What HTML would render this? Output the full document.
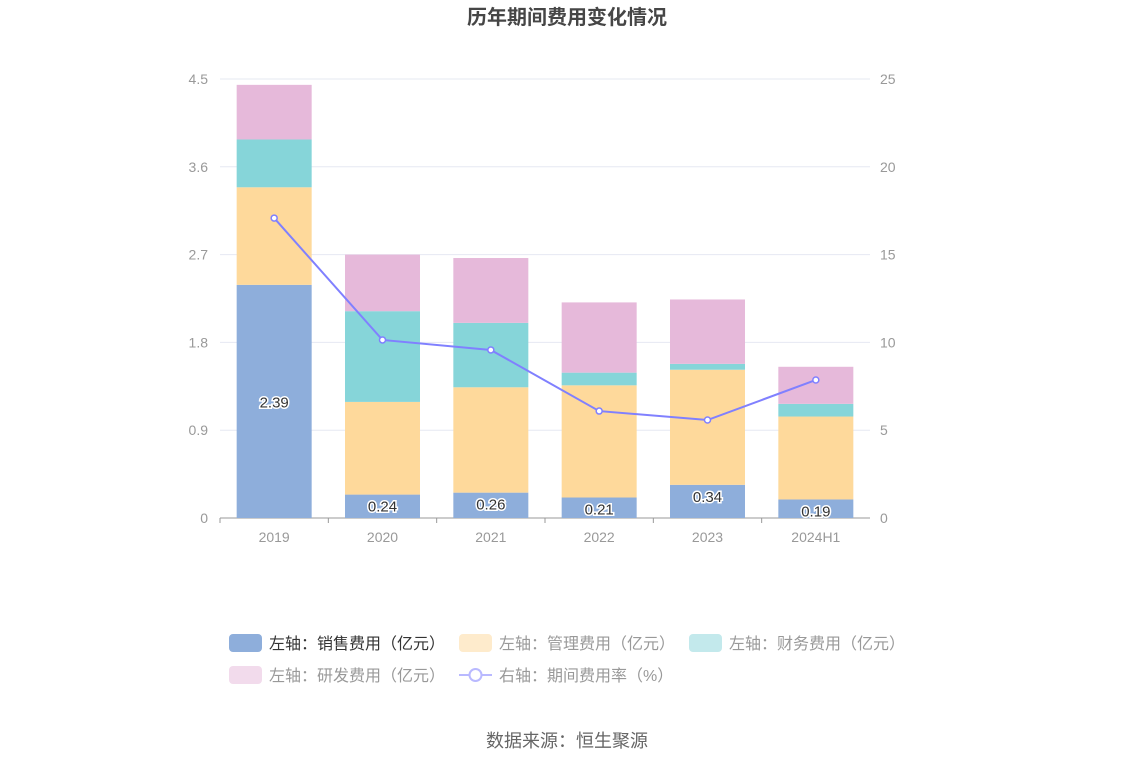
<!DOCTYPE html>
<html><head><meta charset="utf-8"><style>
body{margin:0;width:1134px;height:766px;background:#fff;font-family:"Liberation Sans","Noto Sans CJK SC",sans-serif;overflow:hidden}
</style></head><body>
<svg id="c" width="1134" height="766" xmlns="http://www.w3.org/2000/svg">
<text x="567" y="24" text-anchor="middle" font-size="20" font-weight="bold" fill="#464646" font-family="Liberation Sans,Noto Sans CJK SC,sans-serif">历年期间费用变化情况</text>
<g id="grid"></g><g id="bars"></g><g id="line"></g><g id="legend"></g>
<text x="567" y="747" text-anchor="middle" font-size="18" fill="#666" font-family="Liberation Sans,Noto Sans CJK SC,sans-serif">数据来源：恒生聚源</text>
</svg>
<script>
const categories=["2019","2020","2021","2022","2023","2024H1"];
const sales=[2.39,0.24,0.26,0.21,0.34,0.19];
const admin=[1.00,0.95,1.08,1.15,1.18,0.85];
const finance=[0.49,0.93,0.66,0.13,0.06,0.13];
const rnd=[0.56,0.58,0.665,0.72,0.66,0.38];
const rate=[17.08,10.14,9.57,6.09,5.58,7.86];
const leftTicks=["0","0.9","1.8","2.7","3.6","4.5"];
const rightTicks=["0","5","10","15","20","25"];
const NS="http://www.w3.org/2000/svg";
const L=220,R=870,B=518,T=79;
const yL=v=>B-v/4.5*(B-T), yR=v=>B-v/25*(B-T);
const bw=(R-L)/categories.length, xC=i=>L+bw*(i+0.5);
function mk(tag,attrs,parent){const e=document.createElementNS(NS,tag);for(const k in attrs)e.setAttribute(k,attrs[k]);parent.appendChild(e);return e;}
const F="Liberation Sans,Noto Sans CJK SC,sans-serif";
const g=document.getElementById('grid');
leftTicks.forEach((t,i)=>{const y=B-i*(B-T)/5;
 const ln=mk('line',{x1:L,x2:R,y1:y,y2:y,stroke:i?'#e6e8f2':'#999','stroke-width':1},g);
 
 
 const a=mk('text',{x:208,y:y+5,'text-anchor':'end','font-size':14,fill:'#999','font-family':F},g);a.textContent=t;
 
 
 const b=mk('text',{x:880,y:y+5,'font-size':14,fill:'#999','font-family':F},g);b.textContent=rightTicks[i];
 
 
});
categories.forEach((c,i)=>{const t=mk('text',{x:xC(i),y:542,'text-anchor':'middle','font-size':14,fill:'#999','font-family':F},g);t.textContent=c;
 
 
 const tk=mk('line',{x1:L+bw*i,x2:L+bw*i,y1:B,y2:B+5,stroke:'#999'},g);
 
 });
const series=[[sales,'#8eaedb','sales'],[admin,'#fed99b','admin'],[finance,'#86d5d9','finance'],[rnd,'#e6b9da','rnd']];
const gb=document.getElementById('bars');
categories.forEach((c,i)=>{let acc=0;series.forEach(([arr,col,nm])=>{
 const y0=yL(acc),y1=yL(acc+arr[i]);acc+=arr[i];
 const r=mk('rect',{x:xC(i)-37.5,y:y1,width:75,height:y0-y1,fill:col},gb);
 
 
});
 const v=sales[i],ty=i==0?(yL(0)+yL(v))/2+6:yL(v)+17;
 const t=mk('text',{x:xC(i),y:ty,'text-anchor':'middle','font-size':15,fill:'#333',stroke:'#fff','stroke-width':3,'paint-order':'stroke','font-family':F},gb);
 t.textContent=v.toFixed(2);
 
 
});
const gl=document.getElementById('line');
const p=mk('polyline',{points:rate.map((v,i)=>xC(i)+','+yR(v)).join(' '),fill:'none',stroke:'#8080ff','stroke-width':2},gl);


rate.forEach((v,i)=>{const c=mk('circle',{cx:xC(i),cy:yR(v),r:3,fill:'#fff',stroke:'#8080ff','stroke-width':1.5},gl);
 
 });
const lg=document.getElementById('legend');
const items=[[229,643,'#8eaedb','左轴：销售费用（亿元）','#333'],[459,643,'#feebcc','左轴：管理费用（亿元）','#999'],[689,643,'#c3e9ec','左轴：财务费用（亿元）','#999'],[229,675,'#f2dbec','左轴：研发费用（亿元）','#999'],[459,675,null,'右轴：期间费用率（%）','#999']];
items.forEach(([x,y,col,txt,tc])=>{
 if(col){const r=mk('rect',{x:x,y:y-9,width:33,height:18,rx:4,fill:col},lg);}
 else{mk('line',{x1:x,x2:x+33,y1:y,y2:y,stroke:'#b9b9ff','stroke-width':2},lg);const c=mk('circle',{cx:x+16.5,cy:y,r:6,fill:'#fff',stroke:'#b9b9ff','stroke-width':2},lg);}
 const t=mk('text',{x:x+40,y:y+6,'font-size':16,fill:tc,'font-family':F},lg);t.textContent=txt;
 
 
});
</script>
</body></html>
